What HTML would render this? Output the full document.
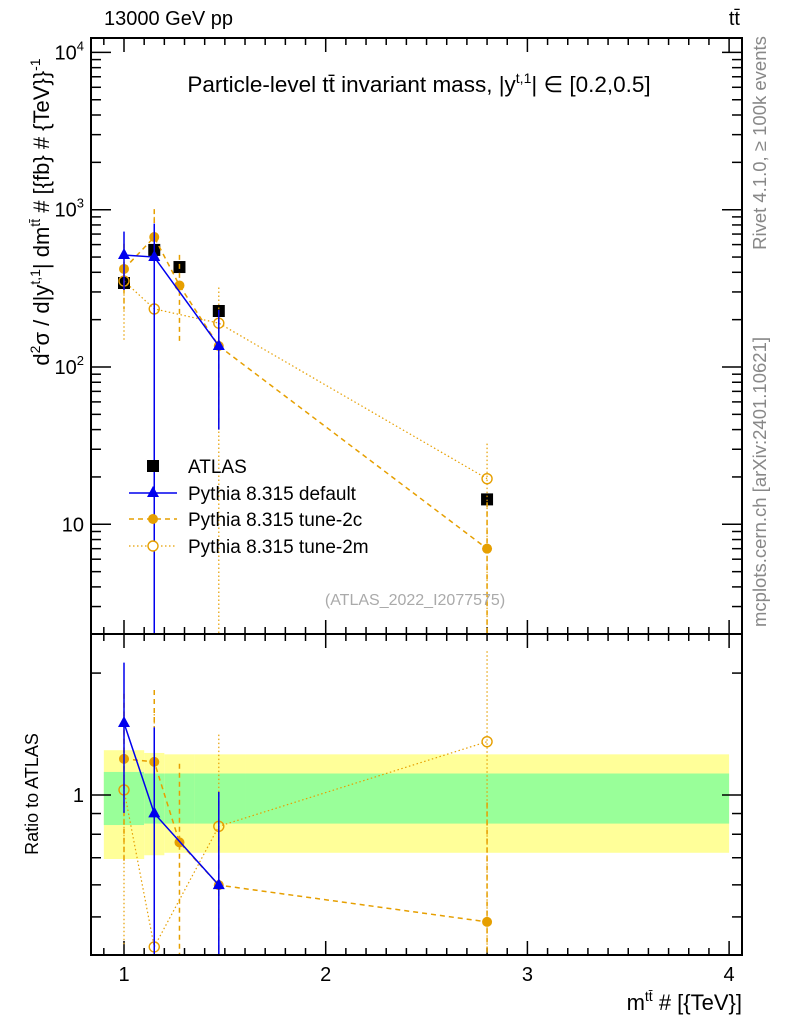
<!DOCTYPE html>
<html><head><meta charset="utf-8">
<style>
html,body{margin:0;padding:0;background:#fff;}
svg{display:block;font-family:"Liberation Sans",sans-serif;}
</style></head>
<body>
<svg id="chart" width="786" height="1024" viewBox="0 0 786 1024" xmlns="http://www.w3.org/2000/svg">
  <g id="bands"></g>
  <g id="ticks"></g>
  <g id="series"></g>
  <rect x="91" y="38" width="651" height="596" fill="none" stroke="#000" stroke-width="2"/>
  <rect x="91" y="634" width="651" height="321" fill="none" stroke="#000" stroke-width="2"/>
  <text x="104" y="25" font-size="20">13000 GeV pp</text>
  <text x="740" y="25" font-size="20" text-anchor="end">tt̄</text>
  <text x="419" y="92" font-size="22.5" text-anchor="middle">Particle-level tt̄ invariant mass, |y<tspan dy="-9" font-size="14">t,1</tspan><tspan dy="9">| ∈ [0.2,0.5]</tspan></text>
  <text transform="translate(49,212) rotate(-90)" font-size="22" text-anchor="middle">d<tspan dy="-9" font-size="14">2</tspan><tspan dy="9">σ / d|y</tspan><tspan dy="-9" font-size="14">t,1</tspan><tspan dy="9">| dm</tspan><tspan dy="-9" font-size="14">tt̄</tspan><tspan dy="9"> # [{fb} # {TeV}}</tspan><tspan dy="-9" font-size="14">-1</tspan></text>
  <text transform="translate(38,794) rotate(-90)" font-size="18" text-anchor="middle">Ratio to ATLAS</text>
  <text x="742" y="1010" font-size="22" text-anchor="end">m<tspan dy="-9" font-size="14">tt̄</tspan><tspan dy="9"> # [{TeV}]</tspan></text>
  <text transform="translate(766,143) rotate(-90)" font-size="18.5" fill="#888" text-anchor="middle">Rivet 4.1.0, ≥ 100k events</text>
  <text transform="translate(766,482) rotate(-90)" font-size="18.5" fill="#888" text-anchor="middle">mcplots.cern.ch [arXiv:2401.10621]</text>
  <text x="415" y="605" font-size="16" fill="#aaa" text-anchor="middle">(ATLAS_2022_I2077575)</text>
  <g id="legend">
    <g>
      <rect x="147" y="460" width="12" height="12" fill="#000"/>
      <text x="188" y="473" font-size="19">ATLAS</text>
    </g>
    <g>
      <line x1="129" y1="493" x2="177" y2="493" stroke="#0000ee" stroke-width="1.5"/>
      <polygon points="153,486 159,497 147,497" fill="#0000ee"/>
      <text x="188" y="500" font-size="19">Pythia 8.315 default</text>
    </g>
    <g>
      <line x1="129" y1="519" x2="177" y2="519" stroke="#e69f00" stroke-width="1.5" stroke-dasharray="5,4"/>
      <circle cx="153" cy="519" r="5" fill="#e69f00"/>
      <text x="188" y="526" font-size="19">Pythia 8.315 tune-2c</text>
    </g>
    <g>
      <line x1="129" y1="546" x2="177" y2="546" stroke="#e69f00" stroke-width="1.2" stroke-dasharray="1.5,2.5"/>
      <circle cx="153" cy="546" r="5" fill="#fff" stroke="#e69f00" stroke-width="1.4"/>
      <text x="188" y="553" font-size="19">Pythia 8.315 tune-2m</text>
    </g>
  </g>
</svg>
<script>
// ---- data ----
const atlasX = [1.0, 1.15, 1.275, 1.47, 2.8];
const atlasY = [342, 555, 432, 227, 14.4];
const defX = [1.0, 1.15, 1.47];
const defY = [515, 500, 136];
const defUp = [726, 815, 231];
const defDn = [309, 1, 40];
const c2X = [1.0, 1.15, 1.275, 1.47, 2.8];
const c2Y = [420, 670, 330, 136, 7.0];
const c2Up = [608, 1008, 516, 231, 13.8];
const c2Dn = [232, 332, 140, 40, 1];
const m2X = [1.0, 1.15, 1.47, 2.8];
const m2Y = [352, 234, 190, 19.5];
const m2Up = [552, 900, 320, 32.6];
const m2Dn = [146, 1, 1, 1];
const bandEdges = [0.9, 1.1, 1.2, 1.35, 1.6, 4.0];
const bandYellowHi = [1.29, 1.27, 1.26, 1.26, 1.26];
const bandYellowLo = [0.695, 0.71, 0.72, 0.72, 0.72];
const bandGreenHi = [1.14, 1.13, 1.13, 1.13, 1.13];
const bandGreenLo = [0.843, 0.85, 0.85, 0.85, 0.85];
const xTickLabels = ["1", "2", "3", "4"];
const yTickLabels = ["10", "10²", "10³", "10⁴"];

// ---- axes ----
const L = 91, R = 742, T = 38, M = 634, B = 955;
const NS = "http://www.w3.org/2000/svg";
function X(v){ return 124 + (v - 1) * 201.7; }
function Y(v){ return 367 - 157.3 * (Math.log10(v) - 2); }
function RY(r){ return 795 - 405 * Math.log10(r); }
function clampT(y){ return Math.max(T, Math.min(M, y)); }
function clampR(y){ return Math.max(M, Math.min(B, y)); }
function mk(tag, attrs, parent){
  const e = document.createElementNS(NS, tag);
  for (const k in attrs) e.setAttribute(k, attrs[k]);
  parent.appendChild(e); return e;
}
const bands = document.getElementById('bands');
const ticks = document.getElementById('ticks');
const series = document.getElementById('series');

for (let i = 0; i < bandEdges.length - 1; i++) {
  const x0 = X(bandEdges[i]), x1 = X(bandEdges[i+1]);
  const yb = mk('rect', {x:x0, y:RY(bandYellowHi[i]), width:x1-x0, height:RY(bandYellowLo[i])-RY(bandYellowHi[i]), fill:'#ffff99'}, bands);
  
  
  const gb = mk('rect', {x:x0, y:RY(bandGreenHi[i]), width:x1-x0, height:RY(bandGreenLo[i])-RY(bandGreenHi[i]), fill:'#99ff99'}, bands);
  
  
}

for (let v = 0.9; v <= 4.05; v += 0.1) {
  const vv = Math.round(v * 10) / 10;
  const major = Math.abs(vv - Math.round(vv)) < 1e-6;
  const len = major ? 14 : 7;
  const px = X(vv);
  if (px < L || px > R) continue;
  for (const [y0, dir] of [[T,1],[M,-1],[M,1],[B,-1]]) {
    mk('line', {x1:px, y1:y0, x2:px, y2:y0 + dir*len, stroke:'#000', 'stroke-width':1.5}, ticks);
  }
}
xTickLabels.forEach((lab, i) => {
  const t = mk('text', {x:X(i+1), y:981, 'font-size':20, 'text-anchor':'middle'}, ticks);
  t.textContent = lab;
  
  
});
for (let d = 0; d <= 4; d++) {
  for (let m = 1; m <= 9; m++) {
    const v = m * Math.pow(10, d);
    const py = Y(v);
    if (py < T || py > M) continue;
    const len = m === 1 ? 20 : 10;
    mk('line', {x1:L, y1:py, x2:L+len, y2:py, stroke:'#000', 'stroke-width':1.5}, ticks);
    mk('line', {x1:R, y1:py, x2:R-len, y2:py, stroke:'#000', 'stroke-width':1.5}, ticks);
  }
}
yTickLabels.forEach((lab, i) => {
  const v = Math.pow(10, i + 1);
  const t = mk('text', {x:84, y:Y(v)+7, 'font-size':20, 'text-anchor':'end'}, ticks);
  if (i === 0) { t.textContent = lab; }
  else {
    t.textContent = '10';
    const s = mk('tspan', {dy:-9, 'font-size':13}, t);
    s.textContent = String(i + 1);
  }
  
  
});
[0.5,0.6,0.7,0.8,0.9,1,2].forEach(r => {
  const py = RY(r), len = r === 1 ? 20 : 10;
  mk('line', {x1:L, y1:py, x2:L+len, y2:py, stroke:'#000', 'stroke-width':1.5}, ticks);
  mk('line', {x1:R, y1:py, x2:R-len, y2:py, stroke:'#000', 'stroke-width':1.5}, ticks);
});
const rl = mk('text', {x:84, y:RY(1)+7, 'font-size':20, 'text-anchor':'end'}, ticks);
rl.textContent = '1';



function drawSeries(name, xs, ys, up, dn, style) {
  const g = mk('g', {}, series);
  
  
  const ptsMain = xs.map((x, i) => X(x) + ',' + Y(ys[i])).join(' ');
  const ratios = xs.map((x, i) => ys[i] / atlasY[atlasX.indexOf(x)]);
  const ptsRatio = xs.map((x, i) => X(x) + ',' + RY(ratios[i])).join(' ');
  const common = {fill:'none', stroke:style.color, 'stroke-width':style.w, 'stroke-dasharray':style.dash};
  mk('polyline', Object.assign({points:ptsMain}, common), g);
  mk('polyline', Object.assign({points:ptsRatio}, common), g);
  xs.forEach((x, i) => {
    const px = X(x);
    const a = atlasY[atlasX.indexOf(x)];
    mk('line', Object.assign({x1:px, x2:px, y1:clampT(Y(up[i])), y2:clampT(Y(dn[i]))}, common), g);
    mk('line', Object.assign({x1:px, x2:px, y1:clampR(RY(up[i]/a)), y2:clampR(RY(dn[i]/a))}, common), g);
    [Y(ys[i]), RY(ratios[i])].forEach(py => {
      let mkEl;
      if (style.marker === 'tri') mkEl = mk('polygon', {points:`${px},${py-7} ${px+6},${py+4} ${px-6},${py+4}`, fill:style.color}, g);
      else if (style.marker === 'dot') mkEl = mk('circle', {cx:px, cy:py, r:5, fill:style.color}, g);
      else mkEl = mk('circle', {cx:px, cy:py, r:5, fill:'none', stroke:style.color, 'stroke-width':1.4}, g);
      
      
    });
  });
}
const ag = mk('g', {}, series);


atlasX.forEach((x, i) => {
  const r = mk('rect', {x:X(x)-6, y:Y(atlasY[i])-6, width:12, height:12, fill:'#000'}, ag);
  
  
});
drawSeries('pythia-tune-2m', m2X, m2Y, m2Up, m2Dn, {color:'#e69f00', w:1.2, dash:'1.5,2.5', marker:'open'});
drawSeries('pythia-tune-2c', c2X, c2Y, c2Up, c2Dn, {color:'#e69f00', w:1.5, dash:'5,4', marker:'dot'});
drawSeries('pythia-default', defX, defY, defUp, defDn, {color:'#0000ee', w:1.5, dash:'none', marker:'tri'});
</script>
</body></html>
